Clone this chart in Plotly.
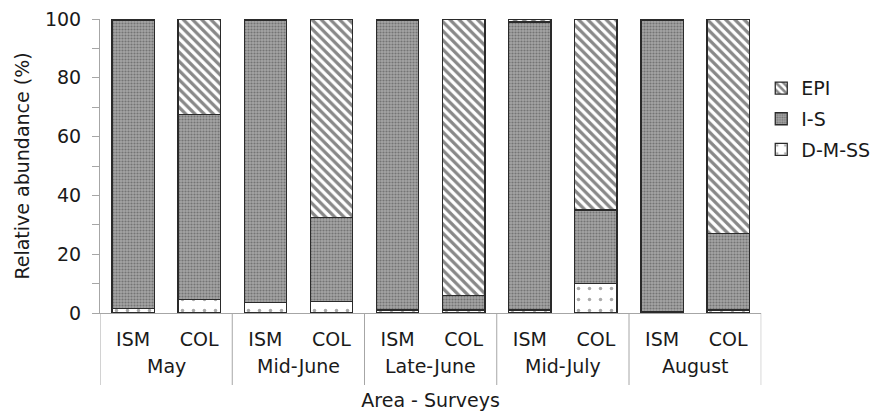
import plotly.graph_objects as go

# Survey periods and sampling areas
surveys = ["May", "May", "Mid-June", "Mid-June", "Late-June", "Late-June",
           "Mid-July", "Mid-July", "August", "August"]
areas = ["ISM", "COL", "ISM", "COL", "ISM", "COL", "ISM", "COL", "ISM", "COL"]

# Relative abundance (%) per group, stacked bottom to top
dmss = [1.5, 4.5, 3.5, 3.8, 1.0, 1.0, 1.0, 10.0, 0.5, 1.0]
i_s = [98.0, 63.0, 96.0, 28.7, 98.5, 5.0, 98.0, 25.0, 99.0, 26.0]
epi = [0.5, 32.5, 0.5, 67.5, 0.5, 94.0, 1.0, 65.0, 0.5, 73.0]

# one category per survey/area pair, labelled by area only
keys = [f"{s} {a}" for s, a in zip(surveys, areas)]
outline = dict(color="#2a2a2a", width=1.3)

fig = go.Figure()
fig.add_trace(go.Bar(
    x=keys, y=dmss, name="D-M-SS", legendgroup="dmss", legendrank=3,
    marker=dict(color="white", line=outline,
                pattern=dict(shape=".", fgcolor="#555555", bgcolor="white",
                             size=11, solidity=0.08)),
))
fig.add_trace(go.Bar(
    x=keys, y=i_s, name="I-S", legendgroup="is", legendrank=2,
    marker=dict(color="#9a9a9a", line=outline,
                pattern=dict(shape=".", fgcolor="#444444", bgcolor="#a4a4a4",
                             size=3, solidity=0.4)),
))
fig.add_trace(go.Bar(
    x=keys, y=epi, name="EPI", legendgroup="epi", legendrank=1,
    marker=dict(color="white", line=outline,
                pattern=dict(shape="\\", fgcolor="#111111", bgcolor="white",
                             size=6.5, solidity=0.5)),
))

axis_grey = "#a6a6a6"
text_color = "#1a1a1a"
fsize = 19
font = dict(family="DejaVu Sans", size=fsize, color=text_color)

# survey names centred under each pair, with dividers between surveys
month_names = surveys[::2]
annotations = []
shapes = []
for i, name in enumerate(month_names):
    annotations.append(dict(
        x=2 * i + 0.5, xref="x", y=0, yref="paper", yshift=-53,
        text=name, showarrow=False, yanchor="middle", xanchor="center",
        font=dict(size=fsize, color=text_color),
    ))
for i in range(len(month_names) + 1):
    shapes.append(dict(
        type="line", xref="x", x0=2 * i - 0.5, x1=2 * i - 0.5,
        yref="paper", ysizemode="pixel", yanchor=0, y0=0, y1=-72,
        line=dict(color=axis_grey, width=1),
    ))

fig.update_layout(
    barmode="stack",
    bargap=0.36,
    width=873, height=411,
    margin=dict(l=100, r=109, t=19, b=98),
    paper_bgcolor="white", plot_bgcolor="white",
    font=font,
    legend=dict(traceorder="grouped", xref="container", yref="container",
                x=0.872, y=0.71, xanchor="left", yanchor="middle",
                font=dict(size=fsize), bgcolor="rgba(0,0,0,0)",
                itemwidth=30, tracegroupgap=3),
    showlegend=True,
    annotations=annotations,
    shapes=shapes,
)
fig.update_yaxes(
    range=[0, 100], tickvals=[0, 20, 40, 60, 80, 100],
    ticks="outside", ticklen=7, tickcolor=axis_grey,
    minor=dict(dtick=10, ticks="outside", ticklen=7, tickcolor=axis_grey),
    showline=True, linecolor=axis_grey, linewidth=1,
    showgrid=False, zeroline=False, ticklabelstandoff=7,
    automargin=False,
    title=dict(text="Relative abundance (%)", standoff=10,
               font=dict(size=fsize)),
)
fig.update_xaxes(
    type="category", tickvals=keys, ticktext=areas,
    range=[-0.5, len(keys) - 0.5],
    showline=True, linecolor=axis_grey, linewidth=1,
    ticks="", ticklabelstandoff=9, showgrid=False, automargin=False,
    title=dict(text="Area - Surveys", font=dict(size=fsize), standoff=44),
)

fig.write_html("out.html")
